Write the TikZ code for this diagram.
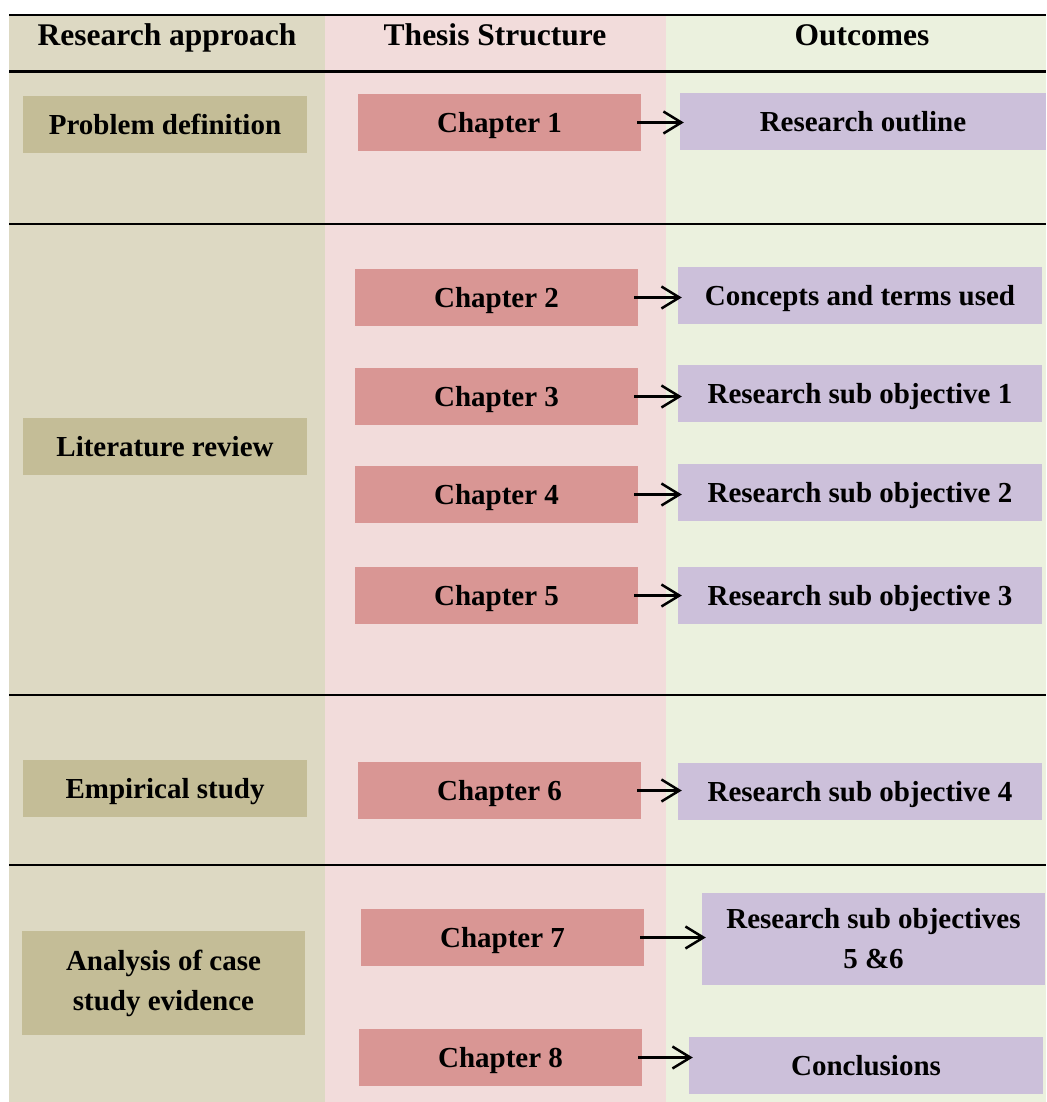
\documentclass[tikz,border=0pt]{standalone}
\usepackage{fontspec}
\setmainfont{Liberation Serif}
\usetikzlibrary{arrows.meta}

\definecolor{approachbg}{HTML}{DDD9C3}
\definecolor{thesisbg}{HTML}{F2DCDB}
\definecolor{outcomebg}{HTML}{EBF1DE}
\definecolor{approachbox}{HTML}{C4BD97}
\definecolor{chapterbox}{HTML}{D99694}
\definecolor{outcomebox}{HTML}{CCC0DA}

\tikzset{
  txt/.style={font=\fontsize{29}{40}\selectfont\bfseries, align=center, inner sep=0pt},
  oneline/.style={text height=19.2pt, text depth=0pt},
  head/.style={font=\fontsize{31.5}{38}\selectfont\bfseries, inner sep=0pt, text height=20.9pt, text depth=0pt},
  abox/.style={txt, fill=approachbox, minimum width=284pt, minimum height=57pt},
  cbox/.style={txt, oneline, fill=chapterbox, minimum width=283pt, minimum height=57pt},
  obox/.style={txt, fill=outcomebox, minimum width=364pt, minimum height=57pt},
  link/.style={line width=2.5pt, -{Straight Barb[length=18pt,width=22pt,line width=2.5pt]}, shorten <=-4pt, shorten >=-4pt},
  rule/.style={line width=2.2pt}
}

\begin{document}
\begin{tikzpicture}[x=1pt, y=-1pt]
  \useasboundingbox (0,0) rectangle (1046,1102);

  % column backgrounds
  \fill[approachbg] (9,14) rectangle (325,1102);
  \fill[thesisbg] (325,14) rectangle (666,1102);
  \fill[outcomebg] (666,14) rectangle (1046,1102);

  % row separators
  \foreach \yy in {15,71.5,224,695,865}
    \draw[rule] (9,\yy) -- (1046,\yy);

  % column headings
  \node[head] (h1) at (167,35) {Research approach};
  \node[head] (h2) at (495,35) {Thesis Structure};
  \node[head] (h3) at (862,35) {Outcomes};

  % research approach
  \node[abox, oneline] (pd) at (165,124.5) {Problem definition};
  \node[abox, oneline] (lr) at (165,446.5) {Literature review};
  \node[abox, oneline] (es) at (165,788.5) {Empirical study};
  \node[abox, minimum width=283pt, minimum height=104pt] (ac) at (163.5,983) {Analysis of case\\study evidence};

  % chapters
  \node[cbox] (c1) at (499.5,122.5) {Chapter 1};
  \node[cbox] (c2) at (496.5,297.5) {Chapter 2};
  \node[cbox] (c3) at (496.5,396.5) {Chapter 3};
  \node[cbox] (c4) at (496.5,494.5) {Chapter 4};
  \node[cbox] (c5) at (496.5,595.5) {Chapter 5};
  \node[cbox] (c6) at (499.5,790.5) {Chapter 6};
  \node[cbox] (c7) at (502.5,937.5) {Chapter 7};
  \node[cbox] (c8) at (500.5,1057.5) {Chapter 8};

  % outcomes
  \node[obox, oneline, minimum width=366pt] (o1) at (863,121.5) {Research outline};
  \node[obox, oneline] (o2) at (860,295.5) {Concepts and terms used};
  \node[obox, oneline] (o3) at (860,393.5) {Research sub objective 1};
  \node[obox, oneline] (o4) at (860,492.5) {Research sub objective 2};
  \node[obox, oneline] (o5) at (860,595.5) {Research sub objective 3};
  \node[obox, oneline] (o6) at (860,791.5) {Research sub objective 4};
  \node[obox, minimum width=343pt, minimum height=92pt] (o7) at (873.5,939) {Research sub objectives\\5 \&6};
  \node[obox, oneline, minimum width=354pt] (o8) at (866,1065.5) {Conclusions};

  % chapter to outcome links
  \foreach \i in {1,...,8}
    \draw[link] (c\i.east) -- (c\i.east -| o\i.west);
\end{tikzpicture}
\end{document}
